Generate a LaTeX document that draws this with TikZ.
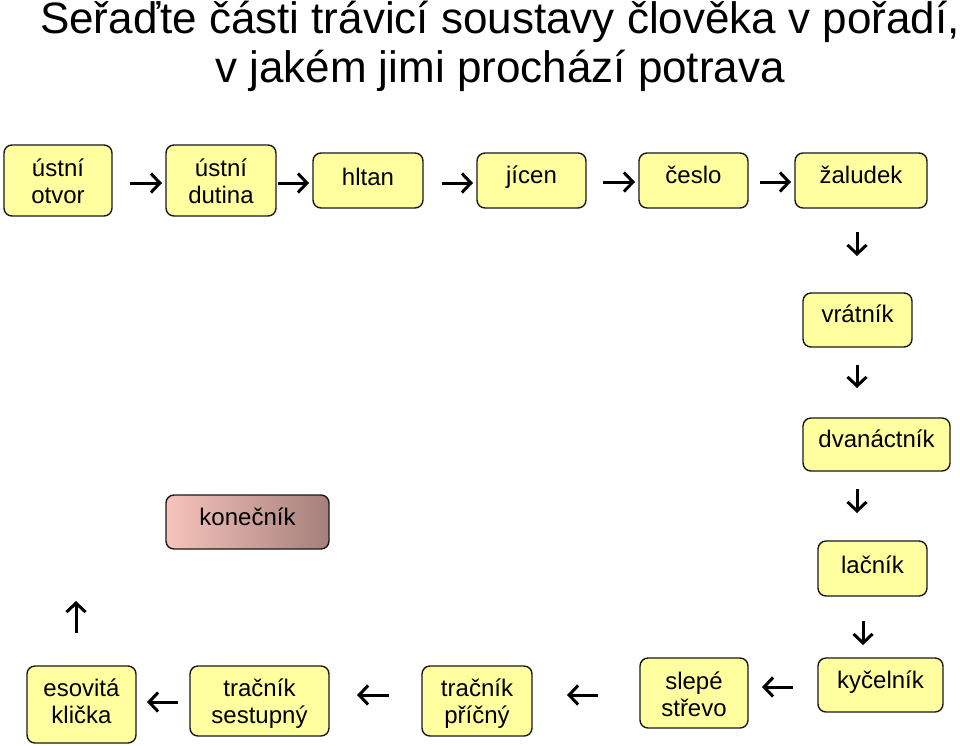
\documentclass[tikz,border=0pt]{standalone}
\usepackage{fontspec}
\setmainfont{Liberation Sans}
\usetikzlibrary{arrows.meta}
\definecolor{boxfill}{RGB}{255,255,160}
\definecolor{boxline}{RGB}{25,25,25}
\definecolor{pinkL}{RGB}{246,196,188}
\definecolor{pinkR}{RGB}{165,128,122}
\tikzset{
  box/.style={draw=boxline, line width=1.4pt, rounded corners=8pt, fill=boxfill, inner sep=0pt},
  txt/.style={font=\fontsize{24}{27}\selectfont, align=center, inner sep=0pt, anchor=base},
  flow/.style={line width=3pt, -{Straight Barb[length=9pt,width=19pt,line width=3pt]}},
}
\begin{document}
\begin{tikzpicture}[x=1pt,y=-1pt]
\useasboundingbox (0,0) rectangle (960,745);
% title (anchor=base is the baseline of the last line)
\node[font=\fontsize{44}{49}\selectfont, align=center, inner sep=0pt, anchor=base] (title) at (500,82) {Seřaďte části trávicí soustavy člověka v pořadí,\\v jakém jimi prochází potrava};
% boxes
\node[box, minimum width=108pt, minimum height=71pt] (b1) at (58,180.5) {};
\node[box, minimum width=110pt, minimum height=71pt] (b2) at (221,180.5) {};
\node[box, minimum width=110pt, minimum height=55pt] (b3) at (368,180.5) {};
\node[box, minimum width=109pt, minimum height=55pt] (b4) at (531.5,180.5) {};
\node[box, minimum width=109pt, minimum height=55pt] (b5) at (693.5,180.5) {};
\node[box, minimum width=132pt, minimum height=55pt] (b6) at (861,180.5) {};
\node[box, minimum width=109pt, minimum height=54pt] (b7) at (857.5,320) {};
\node[box, minimum width=147pt, minimum height=53pt] (b8) at (876.5,444.5) {};
\node[box, minimum width=109pt, minimum height=55pt] (b9) at (872.5,568.5) {};
\node[box, minimum width=125pt, minimum height=54pt] (b10) at (880.5,685) {};
\node[box, minimum width=108pt, minimum height=70pt] (b11) at (694,693) {};
\node[box, minimum width=110pt, minimum height=70pt] (b12) at (477,701) {};
\node[box, minimum width=139pt, minimum height=70pt] (b13) at (259.5,701) {};
\node[box, minimum width=109pt, minimum height=77pt] (b14) at (81.5,704.5) {};
\node[box, shading=axis, left color=pinkL, right color=pinkR, minimum width=163pt, minimum height=54pt] (b15) at (247.5,522) {};
% texts (two-line texts: position is the baseline of the second line)
\node[txt] (t1) at (58,203.5) {ústní\\otvor};
\node[txt] (t2) at (221,203.5) {ústní\\dutina};
\node[txt] (t3) at (368,185) {hltan};
\node[txt] (t4) at (531.5,183) {jícen};
\node[txt] (t5) at (693.5,183) {česlo};
\node[txt] (t6) at (861,183) {žaludek};
\node[txt] (t7) at (857.5,322) {vrátník};
\node[txt] (t8) at (876.5,447) {dvanáctník};
\node[txt] (t9) at (872.5,573) {lačník};
\node[txt] (t10) at (880.5,688) {kyčelník};
\node[txt] (t11) at (694,716) {slepé\\střevo};
\node[txt] (t12) at (477,723) {tračník\\příčný};
\node[txt] (t13) at (259.5,723) {tračník\\sestupný};
\node[txt] (t14) at (81.5,723) {esovitá\\klička};
\node[txt] (t15) at (247.5,525) {konečník};
% arrow end points
\coordinate (r1s) at (130,183); \coordinate (r1e) at (162,183);
\coordinate (r2s) at (278,183); \coordinate (r2e) at (309,183);
\coordinate (r3s) at (442,183); \coordinate (r3e) at (473,183);
\coordinate (r4s) at (603,182); \coordinate (r4e) at (635,182);
\coordinate (r5s) at (760,182); \coordinate (r5e) at (791,182);
\coordinate (d1s) at (857,232); \coordinate (d1e) at (857,256);
\coordinate (d2s) at (857,365); \coordinate (d2e) at (857,388);
\coordinate (d3s) at (857,489); \coordinate (d3e) at (857,513);
\coordinate (d4s) at (863,621); \coordinate (d4e) at (863,645);
\coordinate (l1s) at (793,687); \coordinate (l1e) at (762,687);
\coordinate (l2s) at (598,695); \coordinate (l2e) at (567,695);
\coordinate (l3s) at (389,695); \coordinate (l3e) at (357,695);
\coordinate (l4s) at (178,702); \coordinate (l4e) at (147,702);
\coordinate (u1s) at (76,633); \coordinate (u1e) at (76,601);
% arrows
\foreach \a in {r1,r2,r3,r4,r5,d1,d2,d3,d4,l1,l2,l3,l4,u1}
  \draw[flow] (\a s) -- (\a e);
\end{tikzpicture}
\end{document}
